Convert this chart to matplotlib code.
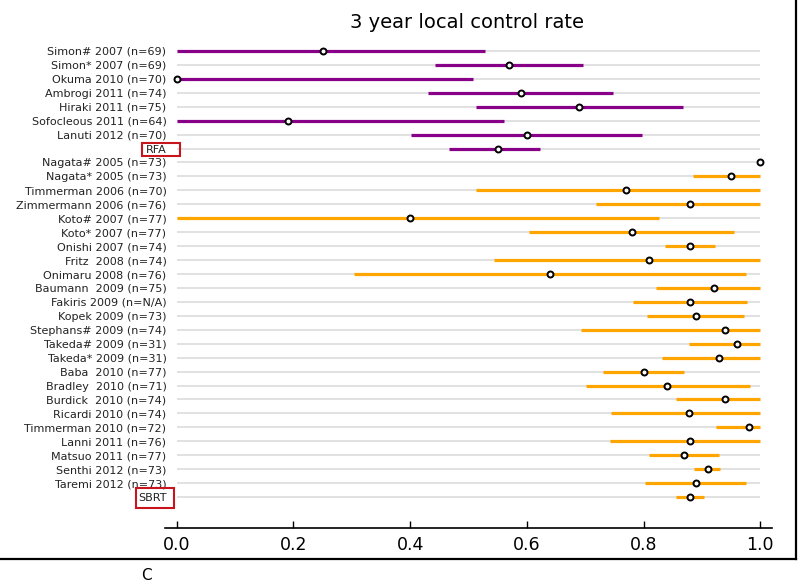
import matplotlib
matplotlib.use("Agg")
import matplotlib.pyplot as plt
from matplotlib.patches import Rectangle
from matplotlib.lines import Line2D

rfa_labels = ["Simon# 2007 (n=69)", "Simon* 2007 (n=69)", "Okuma 2010 (n=70)",
              "Ambrogi 2011 (n=74)", "Hiraki 2011 (n=75)", "Sofocleous 2011 (n=64)",
              "Lanuti 2012 (n=70)", "RFA"]
rfa_est = [0.25, 0.57, 0.00, 0.59, 0.69, 0.19, 0.60, 0.55]
rfa_lo = [0.00, 0.443, 0.00, 0.431, 0.512, 0.00, 0.402, 0.467]
rfa_hi = [0.528, 0.697, 0.507, 0.748, 0.867, 0.560, 0.797, 0.622]

sbrt_labels = ["Nagata# 2005 (n=73)", "Nagata* 2005 (n=73)", "Timmerman 2006 (n=70)",
               "Zimmermann 2006 (n=76)", "Koto# 2007 (n=77)", "Koto* 2007 (n=77)",
               "Onishi 2007 (n=74)", "Fritz  2008 (n=74)", "Onimaru 2008 (n=76)",
               "Baumann  2009 (n=75)", "Fakiris 2009 (n=N/A)", "Kopek 2009 (n=73)",
               "Stephans# 2009 (n=74)", "Takeda# 2009 (n=31)", "Takeda* 2009 (n=31)",
               "Baba  2010 (n=77)", "Bradley  2010 (n=71)", "Burdick  2010 (n=74)",
               "Ricardi 2010 (n=74)", "Timmerman 2010 (n=72)", "Lanni 2011 (n=76)",
               "Matsuo 2011 (n=77)", "Senthi 2012 (n=73)", "Taremi 2012 (n=73)", "SBRT"]
sbrt_est = [1.00, 0.95, 0.77, 0.88, 0.40, 0.78, 0.88, 0.81, 0.64,
            0.92, 0.88, 0.89, 0.94, 0.96, 0.93,
            0.80, 0.84, 0.94, 0.877, 0.98, 0.88,
            0.87, 0.91, 0.89, 0.88]
sbrt_lo = [1.00, 0.885, 0.513, 0.718, 0.00, 0.603, 0.836, 0.544, 0.304,
           0.821, 0.781, 0.806, 0.693, 0.877, 0.832,
           0.730, 0.701, 0.855, 0.744, 0.924, 0.742,
           0.809, 0.887, 0.803, 0.856]
sbrt_hi = [1.00, 1.00, 1.00, 1.00, 0.826, 0.955, 0.922, 1.00, 0.975,
           1.00, 0.977, 0.972, 1.00, 1.00, 1.00,
           0.869, 0.983, 1.00, 1.00, 1.00, 1.00,
           0.929, 0.931, 0.975, 0.903]

title = "3 year local control rate"
xticks = [0.0, 0.2, 0.4, 0.6, 0.8, 1.0]

RFA_COLOR = "#880088"
SBRT_COLOR = "#FFA500"

W, H = 800, 582
fig = plt.figure(figsize=(8, 5.82), dpi=100)
ax = fig.add_axes([165 / W, 1 - 528 / H, (772 - 165) / W, (528 - 44) / H])

labels = rfa_labels + sbrt_labels
est = rfa_est + sbrt_est
lo = rfa_lo + sbrt_lo
hi = rfa_hi + sbrt_hi
colors = [RFA_COLOR] * len(rfa_labels) + [SBRT_COLOR] * len(sbrt_labels)
n = len(labels)
ys = list(range(n))

ax.hlines(ys, 0, 1, color="#d9d9d9", lw=1.1, zorder=1)
for y, l, h, c in zip(ys, lo, hi, colors):
    if h > l:
        ax.plot([l, h], [y, y], color=c, lw=2.3, solid_capstyle="butt", zorder=2)
ax.plot(est, ys, "o", ms=4.3, mfc="white", mec="black", mew=1.4, ls="none", zorder=3)

ax.set_xlim(-0.02, 1.02)
ax.set_ylim(n - 1 + 2.22, -0.5)
ax.set_yticks(ys)
ax.set_yticklabels(labels, fontsize=8, color="#222222")
ax.set_xticks(xticks)
ax.set_xticklabels([f"{t:.1f}" for t in xticks], fontsize=12.5)
ax.tick_params(axis="y", length=0, pad=-1)
ax.tick_params(axis="x", direction="in", length=5, width=1, pad=6)
for s in ["top", "right", "left"]:
    ax.spines[s].set_visible(False)
ax.spines["bottom"].set_linewidth(1.2)

fig.text(467 / W, 1 - 22 / H, title, fontsize=14, ha="center", va="center")

# red boxes around group labels
red = "#c8141c"
fig.add_artist(Rectangle((142 / W, 1 - 156 / H), 38 / W, 13 / H, transform=fig.transFigure,
                         fill=False, edgecolor=red, lw=1.5))
fig.add_artist(Rectangle((136 / W, 1 - 508 / H), 38 / W, 20 / H, transform=fig.transFigure,
                         fill=False, edgecolor=red, lw=1.5))

# panel frame
fig.add_artist(Line2D([0, 796 / W], [1 - 559 / H, 1 - 559 / H], transform=fig.transFigure,
                      color="black", lw=1.6))
fig.add_artist(Line2D([796 / W, 796 / W], [1 - 559 / H, 1], transform=fig.transFigure,
                      color="black", lw=1.6))
fig.text(146 / W, 1 - 576 / H, "C", fontsize=11, ha="center", va="center")

fig.savefig("out.png", dpi=100)
